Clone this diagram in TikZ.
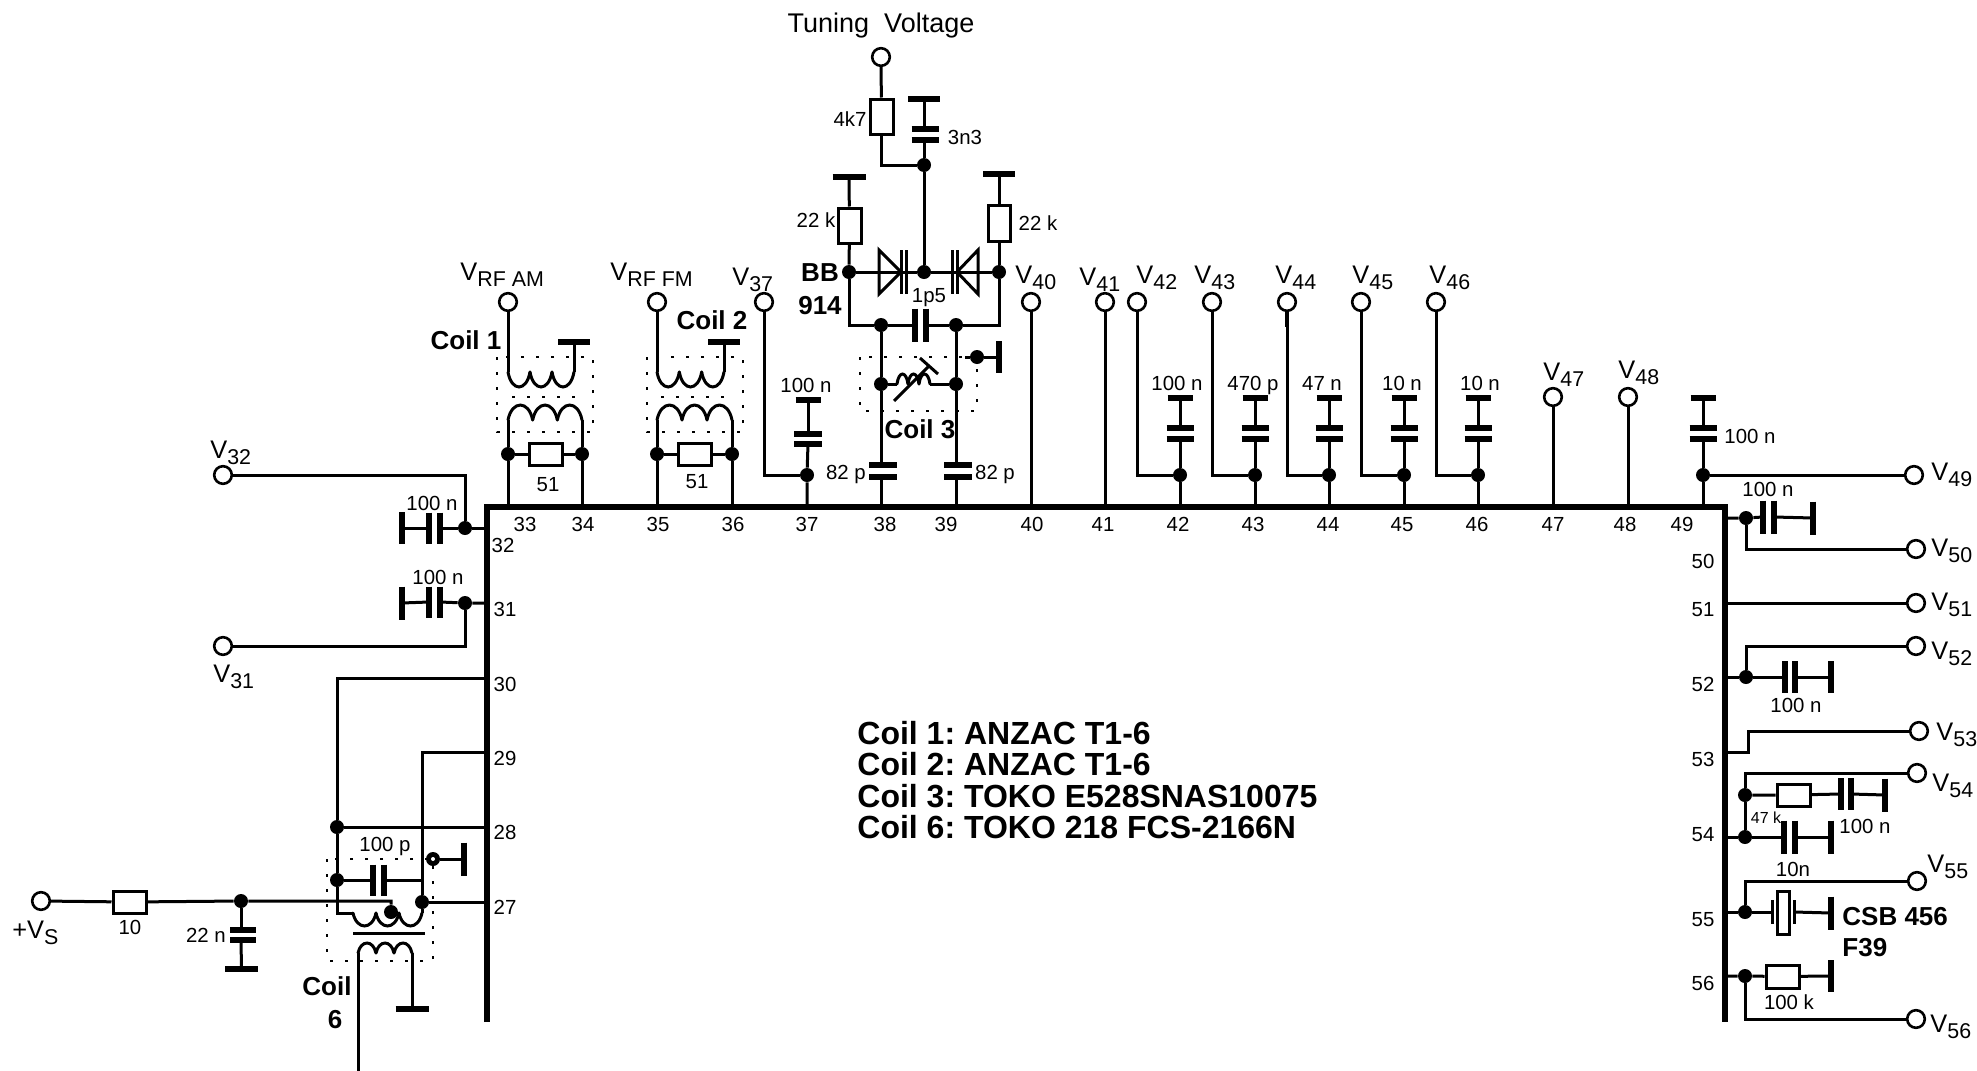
\documentclass[tikz,border=0pt]{standalone}
\usepackage{fontspec}
\setmainfont{Liberation Sans}
\frenchspacing
\tikzset{
  wire/.style={line width=1.5pt,line join=miter,line cap=butt},
  plate/.style={line width=2.9pt,line cap=butt},
  icline/.style={line width=3pt,line cap=square},
  dotbox/.style={line width=1.2pt,dash pattern=on 1.4pt off 6.1pt},
  term/.style={circle,draw,line width=1.3pt,minimum size=8.8pt,inner sep=0pt,fill=white},
  junc/.style={circle,fill=black,minimum size=7pt,inner sep=0pt},
  res/.style={rectangle,draw,line width=1.5pt,inner sep=0pt,fill=white},
  lbl/.style={inner sep=0pt,font=\fontsize{10.2}{12}\selectfont,text height=7.4pt,text depth=0pt},
  small/.style={inner sep=0pt,font=\fontsize{8}{10}\selectfont,text height=5.8pt,text depth=0pt},
  vlbl/.style={inner sep=0pt,anchor=base west},
  bold/.style={inner sep=0pt,font=\fontsize{13}{15}\bfseries\selectfont,text height=9.3pt,text depth=0pt},
  bolder/.style={inner sep=0pt,anchor=west,font=\fontsize{16}{18}\bfseries\selectfont,text height=11.5pt,text depth=0pt},
}
\newcommand{\Vs}[1]{{\fontsize{12.7}{14}\selectfont V\raisebox{-0.5ex}{\fontsize{10.7}{12}\selectfont #1}}}
% horizontal plate: name, x, y, half width
\newcommand{\hplate}[4]{\coordinate (#1) at (#2,#3); \draw[plate] ({#2-#4},#3) -- ({#2+#4},#3);}
% vertical plate: name, x, y, half height
\newcommand{\vplate}[4]{\coordinate (#1) at (#2,#3); \draw[plate] (#2,{#3-#4}) -- (#2,{#3+#4});}
% coil: x1, x2, y, humps, depth
\newcommand{\coilw}[5]{%
  \pgfmathsetmacro{\hw}{(#2-#1)/#4}%
  \foreach \i in {1,...,#4}{%
    \draw[wire,line cap=round] ({#1+(\i-1)*\hw},#3) .. controls ({#1+(\i-1)*\hw+0.16*\hw},{#3+1.33*#5}) and ({#1+\i*\hw-0.16*\hw},{#3+1.33*#5}) .. ({#1+\i*\hw},#3);
  }}
\newcommand{\res}[6]{\node[res,minimum width={(#4-#2)*0.5pt},minimum height={(#5-#3)*0.5pt}] (#1) at ({(#2+#4)/2},{(#3+#5)/2}) {}; }
\begin{document}
\begin{tikzpicture}[x=0.5pt,y=-0.5pt]
\useasboundingbox (0,0) rectangle (1977,1071);
% IC outline
\coordinate (icbl) at (487,1022);
\coordinate (ictl) at (487,507);
\coordinate (ictr) at (1725,507);
\coordinate (icbr) at (1725,1022);
\draw[icline,line cap=butt,line join=miter] (icbl) -- (ictl) -- (ictr) -- (icbr);
% top pins
\foreach \n/\x in {33/508,34/582,35/657,36/732,37/807,38/881,39/956,40/1031,41/1105,42/1180,43/1255,44/1329,45/1404,46/1478,49/1703}
  {\coordinate (p\n) at (\x,507);}
% top pin labels
\foreach \n/\x in {33/525,34/583,35/658,36/733,37/807,38/885,39/946,40/1032,41/1103,42/1178,43/1253,44/1328,45/1402,46/1477,47/1553,48/1625,49/1682}
  {\node[lbl] (n\n) at (\x,524) {\n};}
% left and right pin labels
\foreach \n/\x/\y in {32/503/545,31/505/609,30/505/684,29/505/758,28/505/832,27/505/907,50/1703/561,51/1703/609,52/1703/684,53/1703/759,54/1703/834,55/1703/919,56/1703/983}
  {\node[lbl] (n\n) at (\x,\y) {\n};}
% left and right pin points
\foreach \n/\x/\y in {32/487/528,31/487/603,30/487/678,29/487/752,28/487/827,27/487/901,50/1725/518,51/1725/603,52/1725/677,53/1725/752,54/1725/837,55/1725/912,56/1725/976}
  {\coordinate (p\n) at (\x,\y);}

% ---- Coil 1
\node[term] (tam) at (508,302) {};
\node[vlbl] (lam) at (460,280) {\Vs{RF AM}};
\node[junc] (j33) at (508,454) {};
\node[junc] (j34) at (582,454) {};
\res{r1}{529}{443}{562}{465}{}
\node[lbl] (l51a) at (548,484) {51};
\hplate{g1}{574}{342}{16}
\coordinate (c1a) at (508,372); \coordinate (c1b) at (574,372);
\coordinate (c1c) at (508,420); \coordinate (c1d) at (582,420);
\coilw{508}{574}{372}{3}{15}
\coilw{508}{582}{420}{3}{-15}
\draw[wire] (tam) -- (c1a);
\draw[wire] (c1b) -- (g1);
\draw[wire] (c1c) -- (j33) -- (p33);
\draw[wire] (c1d) -- (j34) -- (p34);
\draw[wire] (j33) -- (r1) -- (j34);
\draw[dotbox] (497,357) rectangle (593,432);
\draw[dotbox] (512,397) -- (578,397);
\node[bold] (lc1) at (466,340) {Coil 1};

% ---- Coil 2
\node[term] (tfm) at (657,302) {};
\node[vlbl] (lfm) at (610,280) {\Vs{RF FM}};
\node[junc] (j35) at (657,454) {};
\node[junc] (j36) at (732,454) {};
\res{r2}{678}{443}{711}{465}{}
\node[lbl] (l51b) at (697,481) {51};
\hplate{g2}{724}{342}{16}
\coordinate (c2a) at (657,372); \coordinate (c2b) at (724,372);
\coordinate (c2c) at (657,420); \coordinate (c2d) at (732,420);
\coilw{657}{724}{372}{3}{15}
\coilw{657}{732}{420}{3}{-15}
\draw[wire] (tfm) -- (c2a);
\draw[wire] (c2b) -- (g2);
\draw[wire] (c2c) -- (j35) -- (p35);
\draw[wire] (c2d) -- (j36) -- (p36);
\draw[wire] (j35) -- (r2) -- (j36);
\draw[dotbox] (647,357) rectangle (743,432);
\draw[dotbox] (661,397) -- (728,397);
\node[bold] (lc2) at (712,320) {Coil 2};

% ---- V37 and cap
\node[term] (t37) at (764,302) {};
\node[vlbl] (l37) at (732,285) {\Vs{37}};
\node[junc] (j37) at (807,475) {};
\hplate{b37}{808}{400}{12.5}
\hplate{c37a}{808}{434}{14}
\hplate{c37b}{808}{444}{14}
\draw[wire] (t37) |- (j37);
\draw[wire] (b37) -- (c37a);
\draw[wire] (c37b) -- (j37) -- (p37);
\node[lbl] (v37) at (806,385) {100 n};

% ---- Tuning section
\node[term] (ttun) at (881,57) {};
\node[inner sep=0pt,font=\fontsize{13.5}{15}\selectfont,text height=9.7pt,text depth=0pt] (ltun) at (881,23) {Tuning\ \ Voltage};
\res{r47}{870}{99}{893}{134}{}
\node[lbl] (l47) at (850,119) {4k7};
\node[junc] (jt1) at (924,165) {};
\node[junc] (jt2) at (924,272) {};
\hplate{b33}{924}{99}{16}
\hplate{c33a}{925}{129}{13.5}
\hplate{c33b}{925}{140}{13.5}
\node[lbl] (l33n) at (965,137) {3n3};
\draw[wire] (ttun) -- (r47);
\draw[wire] (r47) |- (jt1);
\draw[wire] (b33) -- (924,129);
\draw[wire] (924,140) -- (jt1) -- (jt2);
% left 22k
\hplate{b22a}{849}{177}{16.5}
\res{r22a}{838}{208}{861}{243}{}
\node[junc] (jdl) at (849,272) {};
\node[lbl] (l22a) at (816,220) {22 k};
\draw[wire] (b22a) -- (r22a) -- (jdl);
% right 22k
\hplate{b22b}{999}{174}{16}
\res{r22b}{988}{205}{1010}{241}{}
\node[junc] (jdr) at (999,272) {};
\node[lbl] (l22b) at (1038,223) {22 k};
\draw[wire] (b22b) -- (r22b) -- (jdr);
% diodes
\draw[wire] (jdl) -- (jt2) -- (jdr);
\coordinate (dla) at (879,250); \coordinate (dlb) at (879,294); \coordinate (dlc) at (901,272);
\draw[wire,line join=miter] (dla) -- (dlb) -- (dlc) -- cycle;
\draw[wire] (901,250) -- (901,294);
\draw[wire] (906,250) -- (906,294);
\coordinate (dra) at (978,250); \coordinate (drb) at (978,294); \coordinate (drc) at (957,272);
\draw[wire,line join=miter] (dra) -- (drb) -- (drc) -- cycle;
\draw[wire] (957,250) -- (957,294);
\draw[wire] (952,250) -- (952,294);
\node[bold] (lbb) at (820,272) {BB};
\node[bold] (l914) at (820,305) {914};
% 1p5 row
\coordinate (k1) at (849,325); \coordinate (k2) at (999,325);
\node[junc] (j38t) at (881,325) {};
\node[junc] (j39t) at (956,325) {};
\vplate{c15a}{915}{325}{16.5}
\vplate{c15b}{926}{325}{16.5}
\draw[wire] (jdl) -- (k1) -- (j38t) -- (c15a);
\draw[wire] (jdr) -- (k2) -- (j39t) -- (c15b);
\node[lbl] (l15) at (929,295) {1p5};
% Coil 3
\node[junc] (j38c) at (881,384) {};
\node[junc] (j39c) at (956,384) {};
\node[junc] (jc3g) at (977,357) {};
\vplate{g3}{999}{357}{16}
\coordinate (c3e) at (965,357);
\draw[wire] (c3e) -- (jc3g) -- (g3);
\coordinate (c3a) at (897,384); \coordinate (c3b) at (930,384);
\coilw{897}{930}{384}{3}{-10}
\draw[wire] (j38c) -- (c3a);
\draw[wire] (c3b) -- (j39c);
\coordinate (c3s) at (894,401); \coordinate (c3t) at (929,366);
\coordinate (c3u) at (920,358); \coordinate (c3v) at (938,374);
\draw[wire] (c3s) -- (c3t);
\draw[wire] (c3u) -- (c3v);
\draw[dotbox] (860,357) rectangle (977,411);
\node[bold] (lc3) at (920,429) {Coil 3};
% 82p caps
\hplate{c38a}{883}{465}{14}
\hplate{c38b}{883}{477}{14}
\hplate{c39a}{958}{465}{14}
\hplate{c39b}{958}{477}{14}
\draw[wire] (j38t) -- (j38c) -- (881,465);
\draw[wire] (881,477) -- (p38);
\draw[wire] (j39t) -- (j39c) -- (956,465);
\draw[wire] (956,477) -- (p39);
\node[lbl] (l82a) at (846,472) {82 p};
\node[lbl] (l82b) at (995,472) {82 p};

% ---- V40, V41
\node[term] (t40) at (1031,302) {};
\node[vlbl] (l40) at (1015,283) {\Vs{40}};
\draw[wire] (t40) -- (p40);
\node[term] (t41) at (1105,302) {};
\node[vlbl] (l41) at (1079,285) {\Vs{41}};
\draw[wire] (t41) -- (p41);

% ---- V42..V46 with caps
\foreach \n/\tx/\px/\lx/\vx/\val in {42/1137/1180/1136/1177/100 n,43/1212/1255/1194/1253/470 p,44/1287/1329/1275/1322/47 n,45/1361/1404/1352/1402/10 n,46/1436/1478/1429/1480/10 n}{
  \node[term] (t\n) at (\tx,302) {};
  \node[vlbl] (l\n) at (\lx,283) {\Vs{\n}};
  \node[junc] (j\n) at (\px,475) {};
  \hplate{b\n}{\px}{398}{12.5}
  \hplate{ca\n}{\px}{428}{13.5}
  \hplate{cb\n}{\px}{439}{13.5}
  \draw[wire] (t\n) |- (j\n);
  \draw[wire] (b\n) -- (ca\n);
  \draw[wire] (cb\n) -- (j\n) -- (p\n);
  \node[lbl] (v\n) at (\vx,383) {\val};
}
\draw[line width=2.2pt] (1287,310) -- (1287,327);

% ---- V47, V48
\node[term] (t47) at (1553,397) {};
\node[vlbl] (l47v) at (1543,380) {\Vs{47}};
\coordinate (p47) at (1553,507);
\draw[wire] (t47) -- (p47);
\node[term] (t48) at (1628,397) {};
\node[vlbl] (l48v) at (1618,378) {\Vs{48}};
\coordinate (p48) at (1628,507);
\draw[wire] (t48) -- (p48);

% ---- pin 49
\node[term] (t49) at (1914,475) {};
\node[vlbl] (l49) at (1931,480) {\Vs{49}};
\node[junc] (j49) at (1703,475) {};
\hplate{b49}{1703}{398}{12.5}
\hplate{ca49}{1703}{428}{13.5}
\hplate{cb49}{1703}{439}{13.5}
\draw[wire] (b49) -- (ca49);
\draw[wire] (cb49) -- (j49) -- (p49);
\draw[wire] (j49) -- (t49);
\node[lbl] (v49) at (1750,436) {100 n};

% ---- pin 32, 31
\node[term] (t32) at (223,475) {};
\node[vlbl] (l32) at (210,458) {\Vs{32}};
\node[junc] (j32) at (465,528) {};
\vplate{c32a}{429}{528}{15.5}
\vplate{c32b}{440}{528}{15.5}
\vplate{b32}{402}{528}{16}
\draw[wire] (t32) -| (j32);
\draw[wire] (p32) -- (j32) -- (c32b);
\draw[wire] (c32a) -- (b32);
\node[lbl] (v32) at (432,503) {100 n};
\node[term] (t31) at (223,646) {};
\node[vlbl] (l31) at (213,682) {\Vs{31}};
\node[junc] (j31) at (465,603) {};
\vplate{c31a}{429}{602}{15.5}
\vplate{c31b}{440}{602}{15.5}
\vplate{b31}{402}{603}{16.5}
\draw[wire] (t31) -| (j31);
\draw[wire] (p31) -- (j31) -- (c31b);
\draw[wire] (c31a) -- (b31);
\node[lbl] (v31) at (438,577) {100 n};

% ---- pins 30-27, coil 6
\node[junc] (j28) at (337,827) {};
\node[junc] (j100) at (337,880) {};
\coordinate (w30) at (337,678);
\coordinate (w29) at (422,752);
\coordinate (c6a) at (337,913); \coordinate (c6b) at (353,913);
\draw[wire] (p30) -- (w30) -- (j28) -- (j100) -- (c6a) -- (c6b);
\draw[wire] (j28) -- (p28);
\node[junc] (j27) at (422,902) {};
\coordinate (c6c) at (422,913);
\draw[wire] (p29) -- (w29) -- (j27) -- (c6c);
\draw[wire] (j27) -- (p27 |- j27);
\coilw{353}{422}{913}{3}{13}
\node[junc] (j6m) at (391,912) {};
\vplate{c100a}{373}{880}{15.5}
\vplate{c100b}{384}{880}{15.5}
\coordinate (c100r) at (422,880);
\draw[wire] (j100) -- (c100a);
\draw[wire] (c100b) -- (c100r);
\node[lbl] (v100p) at (385,844) {100 p};
\node[junc] (j6g) at (433,859) {};
\vplate{g6t}{464}{859}{16.5}
\draw[wire] (j6g) -- (g6t);
\draw[dotbox] (327,859) rectangle (433,961);
\fill[white] (j6g) circle (1pt);
\coordinate (core1) at (353,933); \coordinate (core2) at (425,933);
\draw[wire] (core1) -- (core2);
\coilw{358}{412}{953}{3}{-10}
\coordinate (c6d) at (358,953); \coordinate (c6e) at (412,953);
\coordinate (outb) at (358,1071);
\hplate{g6b}{412}{1009}{16.5}
\draw[wire] (c6d) -- (outb);
\draw[wire] (c6e) -- (g6b);
\node[bold] (lc6a) at (327,986) {Coil};
\node[bold] (lc6b) at (335,1019) {6};

% ---- +VS
\node[term] (tvs) at (41,901) {};
\node[vlbl] (lvs) at (12,938) {{\fontsize{12.7}{14}\selectfont +}\Vs{S}};
\res{r10}{113}{891}{146}{913}{}
\node[lbl] (l10) at (130,927) {10};
\node[junc] (j22) at (241,901) {};
\coordinate (c6f) at (391,901);
\draw[wire] (tvs) -- (r10) -- (j22) -- (c6f) -- (j6m);
\hplate{c22a}{243}{930}{13}
\hplate{c22b}{243}{940}{13}
\hplate{b22}{241.5}{969}{16.5}
\draw[wire] (j22) -- (241,930);
\draw[wire] (241,940) -- (b22);
\node[lbl] (l22n) at (206,935) {22 n};

% ---- pin 50
\node[junc] (j50) at (1746,518) {};
\vplate{c50a}{1763}{517}{16.5}
\vplate{c50b}{1774}{517}{16.5}
\vplate{b50}{1813}{518}{16.5}
\node[term] (t50) at (1916,549) {};
\node[vlbl] (l50) at (1931,556) {\Vs{50}};
\draw[wire] (p50) -- (j50) -- (c50a);
\draw[wire] (c50b) -- (b50);
\draw[wire] (j50) |- (t50);
\node[lbl] (v50) at (1768,489) {100 n};
% ---- pin 51
\node[term] (t51) at (1916,603) {};
\node[vlbl] (l51) at (1931,610) {\Vs{51}};
\draw[wire] (p51) -- (t51);
% ---- pin 52
\node[junc] (j52) at (1746,677) {};
\vplate{c52a}{1785}{677}{16}
\vplate{c52b}{1795}{677}{16}
\vplate{b52}{1831}{677}{16}
\node[term] (t52) at (1916,646) {};
\node[vlbl] (l52) at (1931,659) {\Vs{52}};
\draw[wire] (p52) -- (j52) -- (c52a);
\draw[wire] (c52b) -- (b52);
\draw[wire] (j52) |- (t52);
\node[lbl] (v52) at (1796,705) {100 n};
% ---- pin 53
\node[term] (t53) at (1919,731) {};
\node[vlbl] (l53) at (1936,740) {\Vs{53}};
\coordinate (w53) at (1748,752);
\draw[wire] (p53) -- (w53) |- (t53);
% ---- pin 54
\node[term] (t54) at (1917,773) {};
\node[vlbl] (l54) at (1932,791) {\Vs{54}};
\node[junc] (j54a) at (1745,795) {};
\node[junc] (j54b) at (1745,837) {};
\res{r54}{1777}{784}{1810}{806}{}
\vplate{c54a}{1841}{794}{16}
\vplate{c54b}{1851}{794}{16}
\vplate{b54a}{1885}{795}{16.5}
\vplate{c54c}{1784}{837}{16.5}
\vplate{c54d}{1795}{837}{16.5}
\vplate{b54b}{1831}{837}{16.5}
\draw[wire] (t54) -| (j54a) -- (j54b);
\draw[wire] (p54) -- (j54b) -- (c54c);
\draw[wire] (c54d) -- (b54b);
\draw[wire] (j54a) -- (r54) -- (c54a);
\draw[wire] (c54b) -- (b54a);
\node[small] (l47k) at (1766,818) {47 k};
\node[lbl] (v54a) at (1865,826) {100 n};
\node[lbl] (v54b) at (1793,869) {10n};
% ---- pin 55
\node[term] (t55) at (1917,881) {};
\node[vlbl] (l55) at (1927,872) {\Vs{55}};
\node[junc] (j55) at (1745,912) {};
\coordinate (xa) at (1772,912);
\coordinate (xb) at (1794,912);
\draw[wire] (1772,900) -- (1772,924);
\draw[wire] (1794,900) -- (1794,924);
\res{xr}{1777}{891}{1789}{934}{}
\vplate{b55}{1831}{913}{16.5}
\draw[wire] (t55) -| (j55);
\draw[wire] (p55) -- (j55) -- (xa);
\draw[wire] (xb) -- (b55);
\node[bold,anchor=west] (lcsb) at (1842,916) {CSB 456};
\node[bold,anchor=west] (lf39) at (1842,947) {F39};
% ---- pin 56
\node[term] (t56) at (1916,1019) {};
\node[vlbl] (l56) at (1930,1032) {\Vs{56}};
\node[junc] (j56) at (1745,976) {};
\res{r56}{1766}{965}{1799}{988}{}
\vplate{b56}{1831}{976}{16}
\draw[wire] (p56) -- (j56) -- (r56) -- (b56);
\draw[wire] (j56) |- (t56);
\node[lbl] (v56) at (1789,1002) {100 k};

% ---- parts list
\node[bolder] (pl1) at (857,733) {Coil 1: ANZAC T1-6};
\node[bolder] (pl2) at (857,764) {Coil 2: ANZAC T1-6};
\node[bolder] (pl3) at (857,796) {Coil 3: TOKO E528SNAS10075};
\node[bolder] (pl4) at (857,827) {Coil 6: TOKO 218 FCS-2166N};
\end{tikzpicture}
\end{document}
